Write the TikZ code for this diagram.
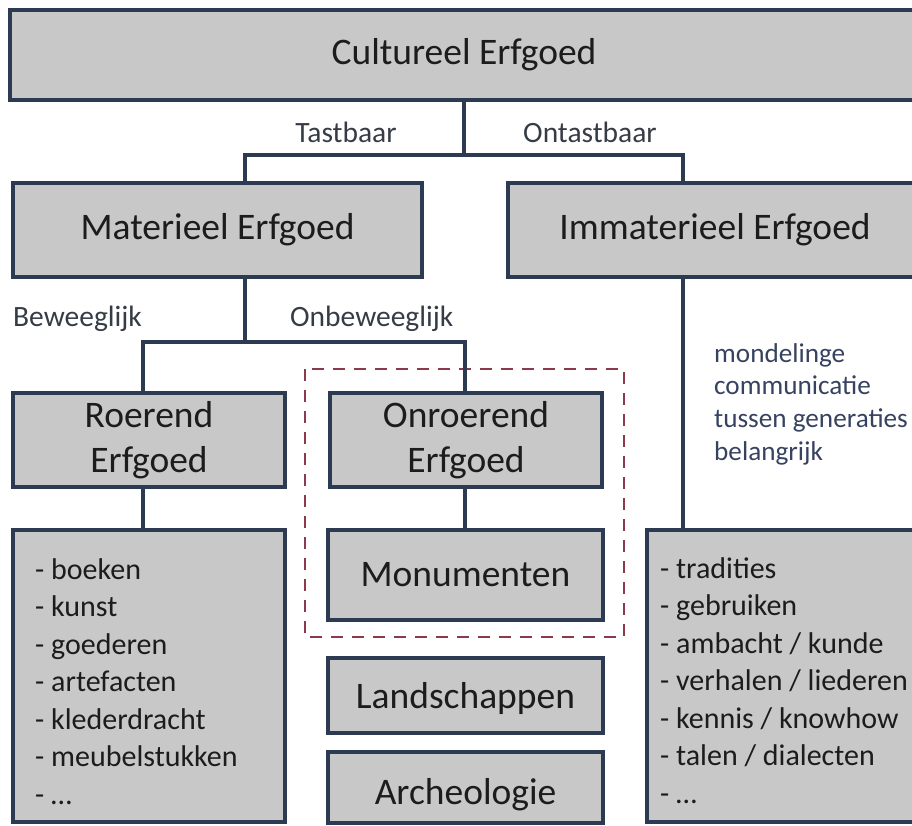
\documentclass[tikz,border=0pt]{standalone}
\usepackage{fontspec}
\setmainfont{Carlito}

\definecolor{boxline}{HTML}{2C3A52}
\definecolor{boxfill}{HTML}{C8C8C8}
\definecolor{dashred}{HTML}{8C3A4B}
\definecolor{labelgray}{HTML}{363C46}
\definecolor{notecolor}{HTML}{364260}
\definecolor{itemblack}{HTML}{1C1C1C}

\begin{document}
\begin{tikzpicture}[x=1pt,y=-1pt,
  box/.style={draw=boxline, fill=boxfill, line width=4pt, inner sep=0pt, text=itemblack},
  title/.style={font=\fontsize{37.5}{45}\selectfont, align=flush center},
  conn/.style={draw=boxline, line width=4pt},
  branch/.style={font=\fontsize{29.5}{35}\selectfont, text=labelgray, inner sep=0pt},
  items/.style={font=\fontsize{30}{37.5}\selectfont, text=itemblack, inner sep=0pt,
    align=flush left, text width=320pt, anchor=base west},
  note/.style={font=\fontsize{27.2}{32.7}\selectfont, text=notecolor, inner sep=0pt,
    align=flush left, text width=240pt, anchor=base west},
  dashframe/.style={draw=dashred, line width=2.5pt, dash pattern=on 12pt off 9pt}]

\useasboundingbox (0,0) rectangle (912,825);
\clip (0,0) rectangle (912,825);

% boxes
\node[box, title, minimum width=908pt, minimum height=90pt] (cult) at (464,55) {Cultureel Erfgoed};
\node[box, title, minimum width=409pt, minimum height=94pt] (mat) at (217.5,230) {Materieel Erfgoed};
\node[box, title, minimum width=414pt, minimum height=94pt] (imm) at (715,230) {Immaterieel Erfgoed};
\node[box, title, minimum width=272pt, minimum height=94pt] (roer) at (149,440) {Roerend\\Erfgoed};
\node[box, title, minimum width=272pt, minimum height=94pt] (onroer) at (466,440) {Onroerend\\Erfgoed};
\node[box, title, minimum width=275pt, minimum height=90pt] (mon) at (465.5,575) {Monumenten};
\node[box, title, minimum width=275pt, minimum height=75pt, text height=30pt, text depth=4pt] (land) at (465.5,695.5) {Landschappen};
\node[box, title, minimum width=275pt, minimum height=71pt, text height=34pt, text depth=0pt] (arch) at (465.5,787.5) {Archeologie};
\node[box, minimum width=272pt, minimum height=292pt] (lista) at (149,676) {};
\node[box, minimum width=275pt, minimum height=292pt] (listb) at (784.5,676) {};

% list contents
\node[items] (lista-items) at (35,579) {- boeken\\- kunst\\- goederen\\- artefacten\\- klederdracht\\- meubelstukken\\- …};
\node[items] (listb-items) at (660,578) {- tradities\\- gebruiken\\- ambacht / kunde\\- verhalen / liederen\\- kennis / knowhow\\- talen / dialecten\\- …};

% branch labels
\node[branch, anchor=base] (tast) at (346,142) {Tastbaar};
\node[branch, anchor=base] (ontast) at (590,142) {Ontastbaar};
\node[branch, anchor=base west] (bew) at (13,326) {Beweeglijk};
\node[branch, anchor=base west] (onbew) at (290,326) {Onbeweeglijk};
\node[note] (mond) at (714,362) {mondelinge\\communicatie\\tussen generaties\\belangrijk};

% dashed frame round the immovable heritage
\draw[dashframe] (305,369) rectangle (624,637);

% connectors
\coordinate (t1) at (245,155);
\coordinate (t2) at (683,155);
\coordinate (b1) at (143,342);
\coordinate (b2) at (465,342);
\draw[conn] (cult.south) -- (cult.south |- t1);
\draw[conn] (t1 |- mat.north) -- (t1) -- (t2) -- (t2 |- imm.north);
\draw[conn] (t1 |- mat.south) -- (t1 |- b1);
\draw[conn] (b1 |- roer.north) -- (b1) -- (b2) -- (b2 |- onroer.north);
\draw[conn] (b1 |- roer.south) -- (b1 |- lista.north);
\draw[conn] (b2 |- onroer.south) -- (b2 |- mon.north);
\draw[conn] (t2 |- imm.south) -- (t2 |- listb.north);

\end{tikzpicture}
\end{document}
